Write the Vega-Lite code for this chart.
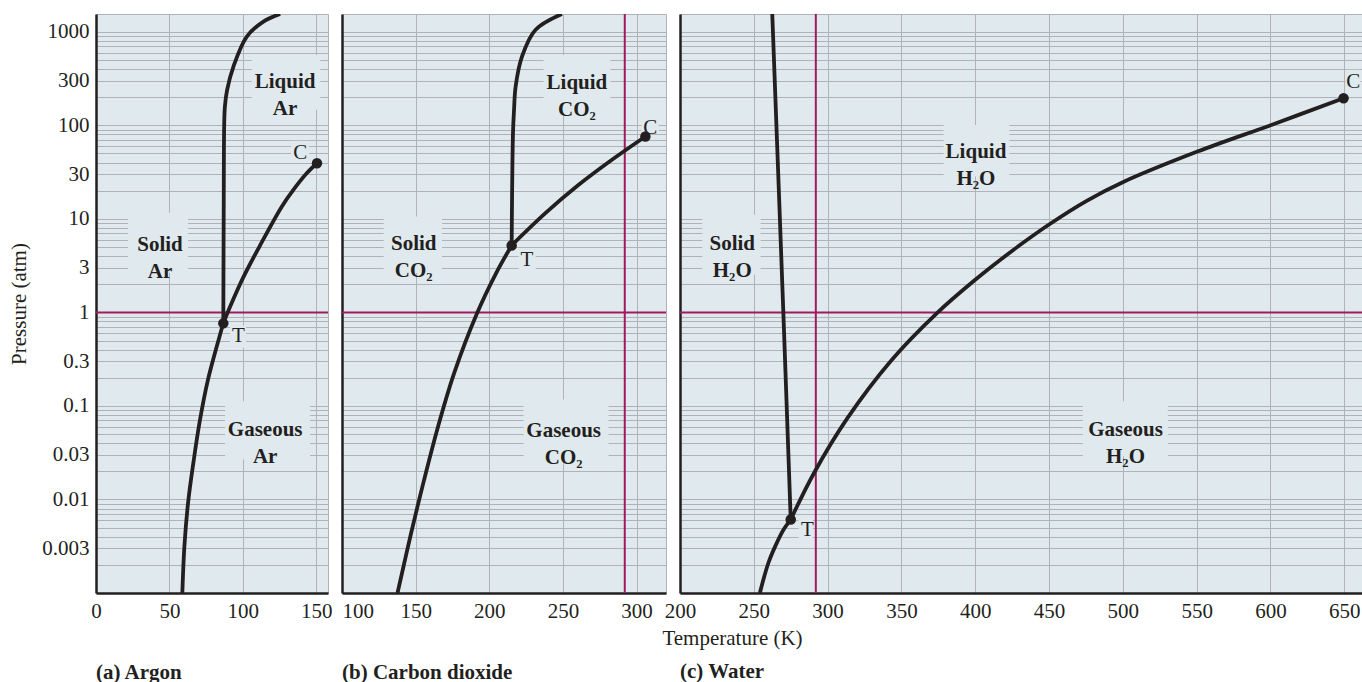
{
  "$schema": "https://vega.github.io/schema/vega-lite/v6.json",
  "background": "white",
  "padding": {"left": 8, "top": 12, "right": 0, "bottom": 0},
  "autosize": {"type": "pad"},
  "bounds": "flush",
  "spacing": 14,
  "config": {
    "font": "Liberation Serif",
    "view": {"fill": "#e0eaee", "stroke": "#afb3b7", "strokeWidth": 1},
    "axis": {
      "grid": true,
      "gridColor": "#afb3b7",
      "gridOpacity": 1,
      "gridWidth": 1,
      "domainColor": "#231f20",
      "domainWidth": 2.5,
      "ticks": false,
      "labelFont": "Liberation Serif",
      "labelFontSize": 21,
      "labelColor": "#231f20",
      "labelOverlap": false,
      "titleFont": "Liberation Serif",
      "titleFontSize": 21,
      "titleFontWeight": "normal",
      "titleColor": "#231f20"
    },
    "title": {"font": "Liberation Serif", "fontSize": 21, "fontWeight": "bold", "color": "#231f20", "orient": "bottom", "anchor": "start", "frame": "group"}
  },
  "resolve": {"scale": {"x": "independent", "y": "independent"}},
  "datasets": {
    "curves": [
      {"p": "a", "c": "sub", "i": 0, "T": 58.8, "P": 0.001},
      {"p": "a", "c": "sub", "i": 1, "T": 60.2, "P": 0.00316},
      {"p": "a", "c": "sub", "i": 2, "T": 62.7, "P": 0.0092},
      {"p": "a", "c": "sub", "i": 3, "T": 66.3, "P": 0.0246},
      {"p": "a", "c": "sub", "i": 4, "T": 70.8, "P": 0.0707},
      {"p": "a", "c": "sub", "i": 5, "T": 76.2, "P": 0.189},
      {"p": "a", "c": "sub", "i": 6, "T": 84.1, "P": 0.55},
      {"p": "a", "c": "sub", "i": 7, "T": 86.7, "P": 0.764},
      {"p": "a", "c": "fus", "i": 0, "T": 86.7, "P": 0.764},
      {"p": "a", "c": "fus", "i": 1, "T": 87.0, "P": 16},
      {"p": "a", "c": "fus", "i": 2, "T": 87.3, "P": 100},
      {"p": "a", "c": "fus", "i": 3, "T": 87.8, "P": 160},
      {"p": "a", "c": "fus", "i": 4, "T": 89.3, "P": 240},
      {"p": "a", "c": "fus", "i": 5, "T": 93.6, "P": 425},
      {"p": "a", "c": "fus", "i": 6, "T": 102.7, "P": 889},
      {"p": "a", "c": "fus", "i": 7, "T": 114.0, "P": 1285},
      {"p": "a", "c": "fus", "i": 8, "T": 125.4, "P": 1550},
      {"p": "a", "c": "vap", "i": 0, "T": 86.7, "P": 0.764},
      {"p": "a", "c": "vap", "i": 1, "T": 91.3, "P": 1.15},
      {"p": "a", "c": "vap", "i": 2, "T": 100.3, "P": 2.37},
      {"p": "a", "c": "vap", "i": 3, "T": 112.0, "P": 5.3},
      {"p": "a", "c": "vap", "i": 4, "T": 126.5, "P": 13.5},
      {"p": "a", "c": "vap", "i": 5, "T": 134.4, "P": 20.4},
      {"p": "a", "c": "vap", "i": 6, "T": 143.5, "P": 30.7},
      {"p": "a", "c": "vap", "i": 7, "T": 150.5, "P": 39.3},
      {"p": "b", "c": "sub", "i": 0, "T": 137.7, "P": 0.001},
      {"p": "b", "c": "sub", "i": 1, "T": 146.9, "P": 0.00435},
      {"p": "b", "c": "sub", "i": 2, "T": 155.7, "P": 0.0161},
      {"p": "b", "c": "sub", "i": 3, "T": 165.2, "P": 0.060},
      {"p": "b", "c": "sub", "i": 4, "T": 176.1, "P": 0.223},
      {"p": "b", "c": "sub", "i": 5, "T": 191.7, "P": 0.98},
      {"p": "b", "c": "sub", "i": 6, "T": 204.6, "P": 2.62},
      {"p": "b", "c": "sub", "i": 7, "T": 215.2, "P": 5.2},
      {"p": "b", "c": "fus", "i": 0, "T": 215.2, "P": 5.2},
      {"p": "b", "c": "fus", "i": 1, "T": 216.1, "P": 82.6},
      {"p": "b", "c": "fus", "i": 2, "T": 216.8, "P": 145},
      {"p": "b", "c": "fus", "i": 3, "T": 217.9, "P": 260},
      {"p": "b", "c": "fus", "i": 4, "T": 222.2, "P": 543},
      {"p": "b", "c": "fus", "i": 5, "T": 231.3, "P": 1047},
      {"p": "b", "c": "fus", "i": 6, "T": 249.3, "P": 1550},
      {"p": "b", "c": "vap", "i": 0, "T": 215.2, "P": 5.2},
      {"p": "b", "c": "vap", "i": 1, "T": 238.1, "P": 11.5},
      {"p": "b", "c": "vap", "i": 2, "T": 260.7, "P": 23.1},
      {"p": "b", "c": "vap", "i": 3, "T": 283.3, "P": 42.8},
      {"p": "b", "c": "vap", "i": 4, "T": 306.0, "P": 76},
      {"p": "c", "c": "sub", "i": 0, "T": 254.1, "P": 0.001},
      {"p": "c", "c": "sub", "i": 1, "T": 259.8, "P": 0.00208},
      {"p": "c", "c": "sub", "i": 2, "T": 264.4, "P": 0.00313},
      {"p": "c", "c": "sub", "i": 3, "T": 270.0, "P": 0.00472},
      {"p": "c", "c": "sub", "i": 4, "T": 275.0, "P": 0.0061},
      {"p": "c", "c": "fus", "i": 0, "T": 275.0, "P": 0.0061},
      {"p": "c", "c": "fus", "i": 1, "T": 270.0, "P": 1},
      {"p": "c", "c": "fus", "i": 2, "T": 262.5, "P": 1550},
      {"p": "c", "c": "vap", "i": 0, "T": 275.0, "P": 0.0061},
      {"p": "c", "c": "vap", "i": 1, "T": 290.8, "P": 0.0192},
      {"p": "c", "c": "vap", "i": 2, "T": 313.4, "P": 0.074},
      {"p": "c", "c": "vap", "i": 3, "T": 343.4, "P": 0.31},
      {"p": "c", "c": "vap", "i": 4, "T": 373.9, "P": 0.978},
      {"p": "c", "c": "vap", "i": 5, "T": 399.8, "P": 2.22},
      {"p": "c", "c": "vap", "i": 6, "T": 425.8, "P": 4.65},
      {"p": "c", "c": "vap", "i": 7, "T": 449.5, "P": 8.6},
      {"p": "c", "c": "vap", "i": 8, "T": 475.5, "P": 15.6},
      {"p": "c", "c": "vap", "i": 9, "T": 500.3, "P": 24.8},
      {"p": "c", "c": "vap", "i": 10, "T": 550.5, "P": 52.4},
      {"p": "c", "c": "vap", "i": 11, "T": 600.6, "P": 101},
      {"p": "c", "c": "vap", "i": 12, "T": 649.5, "P": 195}
    ],
    "points": [
      {"p": "a", "name": "T", "T": 86.7, "P": 0.764},
      {"p": "a", "name": "C", "T": 150.5, "P": 39.3},
      {"p": "b", "name": "T", "T": 215.2, "P": 5.2},
      {"p": "b", "name": "C", "T": 306.0, "P": 76},
      {"p": "c", "name": "T", "T": 275.0, "P": 0.0061},
      {"p": "c", "name": "C", "T": 649.5, "P": 195}
    ],
    "labels": [
      {"p": "a", "kind": "phase", "text": "Solid\nAr", "T": 43.6, "P": 5.29},
      {"p": "a", "kind": "phase", "text": "Liquid\nAr", "T": 128.8, "P": 288},
      {"p": "a", "kind": "phase", "text": "Gaseous\nAr", "T": 115.2, "P": 0.0547},
      {"p": "a", "kind": "point", "text": "T", "T": 97.0, "P": 0.554},
      {"p": "a", "kind": "point", "text": "C", "T": 139.1, "P": 51.2},
      {"p": "b", "kind": "phase", "text": "Solid\nCO₂", "T": 148.7, "P": 5.42},
      {"p": "b", "kind": "phase", "text": "Liquid\nCO₂", "T": 259.5, "P": 284},
      {"p": "b", "kind": "phase", "text": "Gaseous\nCO₂", "T": 250.5, "P": 0.0544},
      {"p": "b", "kind": "point", "text": "T", "T": 225.6, "P": 3.66},
      {"p": "b", "kind": "point", "text": "C", "T": 309.3, "P": 93.3},
      {"p": "c", "kind": "phase", "text": "Solid\nH₂O", "T": 235.4, "P": 5.42},
      {"p": "c", "kind": "phase", "text": "Liquid\nH₂O", "T": 400.5, "P": 52.1},
      {"p": "c", "kind": "phase", "text": "Gaseous\nH₂O", "T": 501.8, "P": 0.0557},
      {"p": "c", "kind": "point", "text": "T", "T": 286.3, "P": 0.00477},
      {"p": "c", "kind": "point", "text": "C", "T": 656.0, "P": 294}
    ],
    "boxes": [
      {"p": "a", "T": 21.8, "T2": 62.7, "P": 2.66, "P2": 11.6},
      {"p": "a", "T": 106.1, "T2": 152.7, "P": 146.6, "P2": 566},
      {"p": "a", "T": 87.9, "T2": 145.9, "P": 0.0267, "P2": 0.112},
      {"p": "a", "T": 91.3, "T2": 102.2, "P": 0.42, "P2": 0.72},
      {"p": "a", "T": 132.9, "T2": 145.1, "P": 40, "P2": 68.3},
      {"p": "b", "T": 128.3, "T2": 167.9, "P": 2.64, "P2": 10.6},
      {"p": "b", "T": 236.9, "T2": 282.2, "P": 136, "P2": 566},
      {"p": "b", "T": 223.3, "T2": 281.0, "P": 0.0267, "P2": 0.117},
      {"p": "b", "T": 219.9, "T2": 231.5, "P": 2.72, "P2": 4.8},
      {"p": "b", "T": 303.4, "T2": 315.0, "P": 82, "P2": 123},
      {"p": "c", "T": 215.1, "T2": 254.6, "P": 2.53, "P2": 11.1},
      {"p": "c", "T": 378.6, "T2": 423.1, "P": 28.4, "P2": 101},
      {"p": "c", "T": 472.9, "T2": 530.5, "P": 0.029, "P2": 0.112},
      {"p": "c", "T": 280.4, "T2": 289.9, "P": 0.00355, "P2": 0.00641},
      {"p": "c", "T": 651.0, "T2": 661.0, "P": 217, "P2": 392}
    ],
    "hrefs": [
      {"p": "a", "T": 0, "T2": 158, "P": 1},
      {"p": "b", "T": 100, "T2": 320, "P": 1},
      {"p": "c", "T": 200, "T2": 662, "P": 1}
    ],
    "vrefs": [
      {"p": "b", "T": 292, "P": 0.001, "P2": 1550},
      {"p": "c", "T": 292, "P": 0.001, "P2": 1550}
    ]
  },
  "hconcat": [
    {
      "width": 232,
      "height": 579,
      "title": {"text": "(a) Argon", "offset": 41},
      "encoding": {
        "x": {"field": "T", "type": "quantitative", "scale": {"domain": [0, 158], "nice": false, "zero": false},
              "axis": {"values": [0, 50, 100, 150], "title": null, "labelFlush": false, "labelPadding": 7}},
        "y": {"field": "P", "type": "quantitative", "scale": {"type": "log", "domain": [0.001, 1550], "nice": false},
              "axis": {"title": "Pressure (atm)", "titlePadding": 12, "labelPadding": 7,
                       "values": [0.001,0.002,0.003,0.004,0.005,0.006,0.007,0.008,0.009,0.01,0.02,0.03,0.04,0.05,0.06,0.07,0.08,0.09,0.1,0.2,0.3,0.4,0.5,0.6,0.7,0.8,0.9,1,2,3,4,5,6,7,8,9,10,20,30,40,50,60,70,80,90,100,200,300,400,500,600,700,800,900,1000],
                       "labelExpr": "indexof([1000,300,100,30,10,3,1,0.3,0.1,0.03,0.01,0.003], datum.value) >= 0 ? format(datum.value, '~g') : ''"}}
      },
      "layer": [
        {"data": {"name": "boxes"}, "transform": [{"filter": "datum.p === 'a'"}], "mark": {"type": "rect", "fill": "#e0eaee"},
         "encoding": {"x2": {"field": "T2"}, "y2": {"field": "P2"}}},
        {"data": {"name": "hrefs"}, "transform": [{"filter": "datum.p === 'a'"}], "mark": {"type": "rule", "color": "#a01a60", "strokeWidth": 2},
         "encoding": {"x2": {"field": "T2"}}},
        {"data": {"name": "curves"}, "transform": [{"filter": "datum.p === 'a'"}], "mark": {"type": "line", "color": "#231f20", "strokeWidth": 3.8, "interpolate": "catmull-rom", "clip": true},
         "encoding": {"detail": {"field": "c"}, "order": {"field": "i", "type": "quantitative"}}},
        {"data": {"name": "points"}, "transform": [{"filter": "datum.p === 'a'"}], "mark": {"type": "circle", "color": "#231f20", "opacity": 1, "size": 110}},
        {"data": {"name": "labels"}, "transform": [{"filter": "datum.p === 'a' && datum.kind === 'phase'"}], "mark": {"type": "text", "fontSize": 21, "fontWeight": "bold", "color": "#231f20", "lineBreak": "\n", "lineHeight": 27, "align": "center", "baseline": "middle"},
         "encoding": {"text": {"field": "text"}}},
        {"data": {"name": "labels"}, "transform": [{"filter": "datum.p === 'a' && datum.kind === 'point'"}], "mark": {"type": "text", "fontSize": 21, "color": "#231f20", "align": "center", "baseline": "middle"},
         "encoding": {"text": {"field": "text"}}}
      ]
    },
    {
      "width": 324,
      "height": 579,
      "title": {"text": "(b) Carbon dioxide", "offset": 41},
      "encoding": {
        "x": {"field": "T", "type": "quantitative", "scale": {"domain": [100, 320], "nice": false, "zero": false},
              "axis": {"values": [100, 150, 200, 250, 300], "title": null, "labelFlush": true, "labelPadding": 7}},
        "y": {"field": "P", "type": "quantitative", "scale": {"type": "log", "domain": [0.001, 1550], "nice": false},
              "axis": {"title": null, "labels": false,
                       "values": [0.001,0.002,0.003,0.004,0.005,0.006,0.007,0.008,0.009,0.01,0.02,0.03,0.04,0.05,0.06,0.07,0.08,0.09,0.1,0.2,0.3,0.4,0.5,0.6,0.7,0.8,0.9,1,2,3,4,5,6,7,8,9,10,20,30,40,50,60,70,80,90,100,200,300,400,500,600,700,800,900,1000]}}
      },
      "layer": [
        {"data": {"name": "boxes"}, "transform": [{"filter": "datum.p === 'b'"}], "mark": {"type": "rect", "fill": "#e0eaee"},
         "encoding": {"x2": {"field": "T2"}, "y2": {"field": "P2"}}},
        {"data": {"name": "hrefs"}, "transform": [{"filter": "datum.p === 'b'"}], "mark": {"type": "rule", "color": "#a01a60", "strokeWidth": 2},
         "encoding": {"x2": {"field": "T2"}}},
        {"data": {"name": "vrefs"}, "transform": [{"filter": "datum.p === 'b'"}], "mark": {"type": "rule", "color": "#a01a60", "strokeWidth": 2},
         "encoding": {"y2": {"field": "P2"}}},
        {"data": {"name": "curves"}, "transform": [{"filter": "datum.p === 'b'"}], "mark": {"type": "line", "color": "#231f20", "strokeWidth": 3.8, "interpolate": "catmull-rom", "clip": true},
         "encoding": {"detail": {"field": "c"}, "order": {"field": "i", "type": "quantitative"}}},
        {"data": {"name": "points"}, "transform": [{"filter": "datum.p === 'b'"}], "mark": {"type": "circle", "color": "#231f20", "opacity": 1, "size": 110}},
        {"data": {"name": "labels"}, "transform": [{"filter": "datum.p === 'b' && datum.kind === 'phase'"}], "mark": {"type": "text", "fontSize": 21, "fontWeight": "bold", "color": "#231f20", "lineBreak": "\n", "lineHeight": 27, "align": "center", "baseline": "middle"},
         "encoding": {"text": {"field": "text"}}},
        {"data": {"name": "labels"}, "transform": [{"filter": "datum.p === 'b' && datum.kind === 'point'"}], "mark": {"type": "text", "fontSize": 21, "color": "#231f20", "align": "center", "baseline": "middle"},
         "encoding": {"text": {"field": "text"}}}
      ]
    },
    {
      "width": 682,
      "height": 579,
      "title": {"text": "(c) Water", "offset": 13},
      "encoding": {
        "x": {"field": "T", "type": "quantitative", "scale": {"domain": [200, 662], "nice": false, "zero": false},
              "axis": {"values": [200, 250, 300, 350, 400, 450, 500, 550, 600, 650], "title": "Temperature (K)", "titleX": 52, "titlePadding": 6, "labelFlush": false, "labelPadding": 7}},
        "y": {"field": "P", "type": "quantitative", "scale": {"type": "log", "domain": [0.001, 1550], "nice": false},
              "axis": {"title": null, "labels": false,
                       "values": [0.001,0.002,0.003,0.004,0.005,0.006,0.007,0.008,0.009,0.01,0.02,0.03,0.04,0.05,0.06,0.07,0.08,0.09,0.1,0.2,0.3,0.4,0.5,0.6,0.7,0.8,0.9,1,2,3,4,5,6,7,8,9,10,20,30,40,50,60,70,80,90,100,200,300,400,500,600,700,800,900,1000]}}
      },
      "layer": [
        {"data": {"name": "boxes"}, "transform": [{"filter": "datum.p === 'c'"}], "mark": {"type": "rect", "fill": "#e0eaee"},
         "encoding": {"x2": {"field": "T2"}, "y2": {"field": "P2"}}},
        {"data": {"name": "hrefs"}, "transform": [{"filter": "datum.p === 'c'"}], "mark": {"type": "rule", "color": "#a01a60", "strokeWidth": 2},
         "encoding": {"x2": {"field": "T2"}}},
        {"data": {"name": "vrefs"}, "transform": [{"filter": "datum.p === 'c'"}], "mark": {"type": "rule", "color": "#a01a60", "strokeWidth": 2},
         "encoding": {"y2": {"field": "P2"}}},
        {"data": {"name": "curves"}, "transform": [{"filter": "datum.p === 'c'"}], "mark": {"type": "line", "color": "#231f20", "strokeWidth": 3.8, "interpolate": "catmull-rom", "clip": true},
         "encoding": {"detail": {"field": "c"}, "order": {"field": "i", "type": "quantitative"}}},
        {"data": {"name": "points"}, "transform": [{"filter": "datum.p === 'c'"}], "mark": {"type": "circle", "color": "#231f20", "opacity": 1, "size": 110}},
        {"data": {"name": "labels"}, "transform": [{"filter": "datum.p === 'c' && datum.kind === 'phase'"}], "mark": {"type": "text", "fontSize": 21, "fontWeight": "bold", "color": "#231f20", "lineBreak": "\n", "lineHeight": 27, "align": "center", "baseline": "middle"},
         "encoding": {"text": {"field": "text"}}},
        {"data": {"name": "labels"}, "transform": [{"filter": "datum.p === 'c' && datum.kind === 'point'"}], "mark": {"type": "text", "fontSize": 21, "color": "#231f20", "align": "center", "baseline": "middle"},
         "encoding": {"text": {"field": "text"}}}
      ]
    }
  ]
}
